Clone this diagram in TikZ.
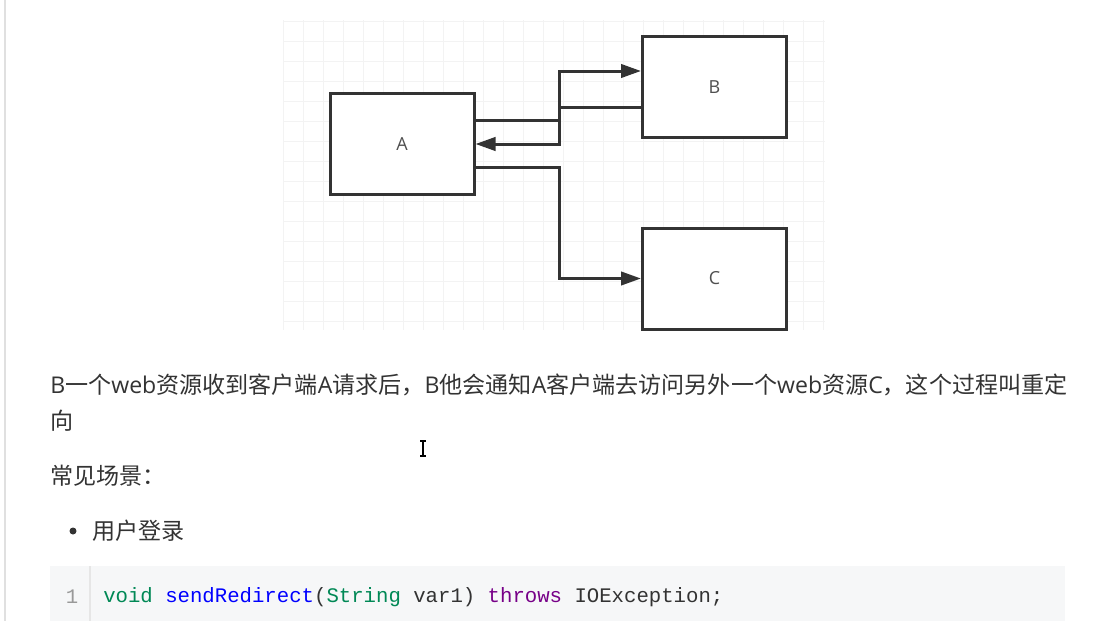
\documentclass[tikz,border=0pt]{standalone}
\usepackage{fontspec}
\usepackage{xcolor}
\usetikzlibrary{arrows.meta,positioning,calc}
\setmainfont{Noto Sans CJK SC}
\newfontfamily\cjk{Noto Sans CJK SC}
\newfontfamily\latinfont{Open Sans}
\newfontfamily\codefont{Liberation Mono}
\newcommand\latn[1]{{\latinfont #1}}
\definecolor{Ink}{HTML}{333333}
\definecolor{Label}{HTML}{505050}
\definecolor{GridLine}{HTML}{F3F3F3}
\definecolor{CodeBg}{HTML}{F6F7F8}
\definecolor{CodeRule}{HTML}{E6E6E6}
\definecolor{LineNo}{HTML}{999999}
\definecolor{TypeGreen}{HTML}{008855}
\definecolor{DefBlue}{HTML}{0000FF}
\definecolor{KeyPurple}{HTML}{770088}

\begin{document}
\begin{tikzpicture}[x=0.75pt,y=-0.75pt,
  box/.style={draw=Ink,line width=2.25pt,fill=white,minimum width=108pt,minimum height=75.75pt,
    inner sep=0pt,text=Label,font=\latinfont\fontsize{13.5pt}{15pt}\selectfont},
  link/.style={draw=Ink,line width=2.25pt,-{Triangle[length=15pt,width=10pt]}},
  para/.style={anchor=west,inner sep=0pt,text=Ink,font=\cjk\fontsize{17.3pt}{20pt}\selectfont}]
  \useasboundingbox (0,0) rectangle (1108,621);
  \fill[white] (0,0) rectangle (1108,621);
  \draw[black!12,line width=1pt] (5,0) -- (5,621);
  % faint canvas grid
  \foreach \gx in {283,303,...,823}{
    \draw[GridLine,line width=0.6pt] (\gx,20) -- (\gx,330);
  }
  \foreach \gy in {21,41,...,321}{
    \draw[GridLine,line width=0.6pt] (283,\gy) -- (825,\gy);
  }
  % boxes
  \node[box] (A) at (402,144) {A};
  \node[box] (B) at (714.5,87) {B};
  \node[box] (C) at (714.5,278.5) {C};
  \coordinate (bus) at (559,0);
  % connectors
  \draw[link] (A.east |- 0,120) -| (bus |- 0,71) -- (B.west |- 0,71);
  \draw[link] (B.west |- 0,107) -| (bus |- 0,144) -- (A.east);
  \draw[link] (A.east |- 0,167) -| (bus |- 0,278.5) -- (C.west);
  % text below
  \node[para] (line1) at (50,385) {\latn{B}一个\latn{web}资源收到客户端\latn{A}请求后，\latn{B}他会通知\latn{A}客户端去访问另外一个\latn{web}资源\latn{C}，这个过程叫重定};
  \node[para] (line2) at (50,421) {向};
  \node[para] (scene) at (50,476) {常见场景：};
  \fill[Ink] (73,531) circle (3.5);
  \node[para] (login) at (92,531) {用户登录};
  % text cursor
  \draw[black,line width=0.9pt] (423,441) -- (423,456);
  \draw[black,line width=0.9pt] (420,441) -- (426,441) (420,456) -- (426,456);
  % code block
  \fill[CodeBg] (50,566) rectangle (1065,621);
  \draw[CodeRule,line width=0.8pt] (90,566) -- (90,621);
  \node[anchor=center,text=LineNo,font=\codefont\fontsize{15.5pt}{18pt}\selectfont] (lno) at (72,597) {1};
  \node[anchor=west,inner sep=0pt,text=Ink,font=\codefont\fontsize{15.5pt}{18pt}\selectfont] (code) at (103,597)
    {\textcolor{TypeGreen}{void} \textcolor{DefBlue}{sendRedirect}(\textcolor{TypeGreen}{String} var1) \textcolor{KeyPurple}{throws} IOException;};
\end{tikzpicture}
\end{document}
